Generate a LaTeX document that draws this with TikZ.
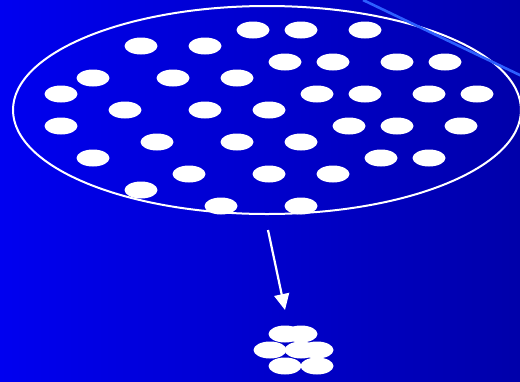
\documentclass[tikz,border=0pt]{standalone}
\usepackage{tikz}
\usetikzlibrary{positioning,shapes.geometric,arrows.meta}

\definecolor{bgleft}{RGB}{0,0,240}
\definecolor{bgright}{RGB}{0,0,170}
\definecolor{rayblue}{RGB}{45,95,255}

\begin{document}
\begin{tikzpicture}[
x=1pt,y=-1pt,
blob/.style={
  ellipse,
  fill=white,
  minimum width=33pt,
  minimum height=17pt,
  inner sep=0pt}
]
\useasboundingbox (0,0) rectangle (520,381);
\shade[left color=bgleft,right color=bgright] (0,0) rectangle (520,381);
% the big container
\node[ellipse,draw=white,line width=2pt,minimum width=508pt,minimum height=208pt,inner sep=0pt] (pool) at (267,110) {};
\draw[rayblue,line width=2.6pt] (363,0) coordinate (R1) -- (526,78) coordinate (R2);
% loose blobs
\foreach \X/\Y [count=\i] in {253/30,301/30,365/30,
  141/46,205/46,
  285/62,333/62,397/62,445/62,
  93/78,173/78,237/78,
  61/94,317/94,365/94,429/94,477/94,
  125/110,205/110,269/110,
  61/126,349/126,397/126,461/126,
  157/142,237/142,301/142,
  93/158,381/158,429/158,
  189/174,269/174,333/174,
  141/190,
  221/206,301/206}
  \node[blob] (b\i) at (\X,\Y) {};
% packed blobs
\foreach \X/\Y [count=\i] in {285/334,301/334,270/350,301/350,317/350,285/366,317/366}
  \node[blob] (c\i) at (\X,\Y) {};
\coordinate (S) at (268,230);
\coordinate (T) at (285,310);
\draw[white,line width=2.2pt,-{Triangle[width=15pt,length=16pt]}] (S) -- (T);
\end{tikzpicture}
\end{document}
